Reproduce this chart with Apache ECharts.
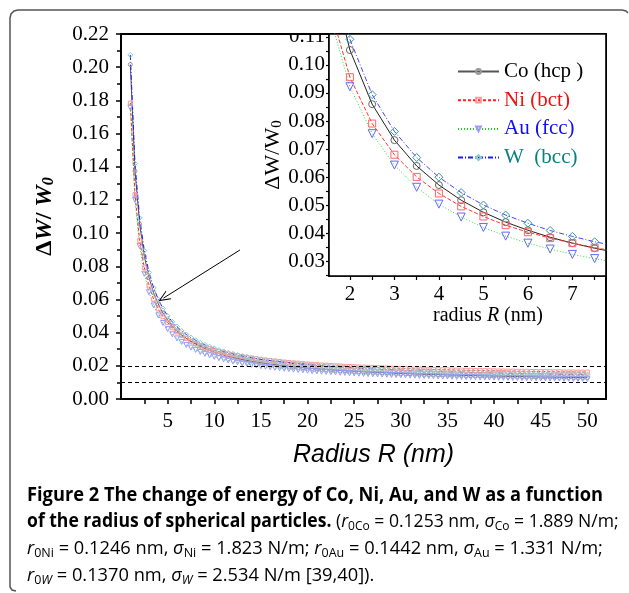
<!DOCTYPE html>
<html><head><meta charset="utf-8">
<script src="https://cdn.jsdelivr.net/npm/echarts@6/dist/echarts.min.js"></script>
<style>html,body{margin:0;padding:0;background:#fff}#c{width:629px;height:593px}</style>
</head><body><div id="c"></div>
<script>
// ---- data ----
const radius = [
  1,1.5,2,2.5,3,3.5,4,4.5,5,5.5,
  6,6.5,7,7.5,8,8.5,9,9.5,10,10.5,
  11,11.5,12,12.5,13,13.5,14,14.5,15,15.5,
  16,16.5,17,17.5,18,18.5,19,19.5,20,20.5,
  21,21.5,22,22.5,23,23.5,24,24.5,25,25.5,
  26,26.5,27,27.5,28,28.5,29,29.5,30,30.5,
  31,31.5,32,32.5,33,33.5,34,34.5,35,35.5,
  36,36.5,37,37.5,38,38.5,39,39.5,40,40.5,
  41,41.5,42,42.5,43,43.5,44,44.5,45,45.5,
  46,46.5,47,47.5,48,48.5,49,49.5,50];
const coHcp = [
  0.2016,0.1374,0.1053,0.0860,0.0732,0.0640,0.0572,0.0518,0.0475,0.0440,
  0.0411,0.0386,0.0365,0.0347,0.0331,0.0317,0.0304,0.0293,0.0283,0.0273,
  0.0265,0.0257,0.0251,0.0244,0.0238,0.0233,0.0228,0.0223,0.0218,0.0214,
  0.0210,0.0207,0.0203,0.0200,0.0197,0.0194,0.0191,0.0189,0.0186,0.0184,
  0.0182,0.0180,0.0178,0.0176,0.0174,0.0172,0.0170,0.0169,0.0167,0.0166,
  0.0164,0.0163,0.0161,0.0160,0.0159,0.0158,0.0156,0.0155,0.0154,0.0153,
  0.0152,0.0151,0.0150,0.0149,0.0148,0.0147,0.0147,0.0146,0.0145,0.0144,
  0.0144,0.0143,0.0142,0.0141,0.0141,0.0140,0.0139,0.0139,0.0138,0.0138,
  0.0137,0.0136,0.0136,0.0135,0.0135,0.0134,0.0134,0.0133,0.0133,0.0132,
  0.0132,0.0131,0.0131,0.0131,0.0130,0.0130,0.0129,0.0129,0.0129];
const niBct = [
  0.1784,0.1232,0.0956,0.0791,0.0680,0.0601,0.0542,0.0496,0.0460,0.0429,
  0.0404,0.0383,0.0365,0.0349,0.0335,0.0323,0.0312,0.0303,0.0294,0.0286,
  0.0279,0.0272,0.0266,0.0261,0.0256,0.0251,0.0247,0.0243,0.0239,0.0235,
  0.0232,0.0229,0.0226,0.0223,0.0220,0.0218,0.0216,0.0213,0.0211,0.0209,
  0.0207,0.0205,0.0204,0.0202,0.0200,0.0199,0.0197,0.0196,0.0195,0.0193,
  0.0192,0.0191,0.0190,0.0189,0.0188,0.0187,0.0186,0.0185,0.0184,0.0183,
  0.0182,0.0181,0.0180,0.0179,0.0179,0.0178,0.0177,0.0176,0.0176,0.0175,
  0.0174,0.0174,0.0173,0.0173,0.0172,0.0171,0.0171,0.0170,0.0170,0.0169,
  0.0169,0.0168,0.0168,0.0167,0.0167,0.0167,0.0166,0.0166,0.0165,0.0165,
  0.0164,0.0164,0.0164,0.0163,0.0163,0.0163,0.0162,0.0162,0.0162];
const auFcc = [
  0.1756,0.1200,0.0922,0.0755,0.0643,0.0564,0.0504,0.0458,0.0421,0.0390,
  0.0365,0.0344,0.0325,0.0310,0.0296,0.0283,0.0272,0.0263,0.0254,0.0246,
  0.0239,0.0232,0.0226,0.0221,0.0215,0.0211,0.0206,0.0202,0.0198,0.0195,
  0.0191,0.0188,0.0185,0.0182,0.0180,0.0177,0.0175,0.0173,0.0170,0.0168,
  0.0166,0.0165,0.0163,0.0161,0.0160,0.0158,0.0157,0.0155,0.0154,0.0152,
  0.0151,0.0150,0.0149,0.0148,0.0147,0.0146,0.0145,0.0144,0.0143,0.0142,
  0.0141,0.0140,0.0139,0.0138,0.0138,0.0137,0.0136,0.0135,0.0135,0.0134,
  0.0133,0.0133,0.0132,0.0132,0.0131,0.0130,0.0130,0.0129,0.0129,0.0128,
  0.0128,0.0127,0.0127,0.0126,0.0126,0.0125,0.0125,0.0125,0.0124,0.0124,
  0.0123,0.0123,0.0123,0.0122,0.0122,0.0121,0.0121,0.0121,0.0120];
const wBcc = [
  0.2074,0.1419,0.1091,0.0894,0.0763,0.0670,0.0600,0.0545,0.0501,0.0465,
  0.0436,0.0410,0.0389,0.0370,0.0354,0.0339,0.0326,0.0315,0.0305,0.0295,
  0.0287,0.0279,0.0272,0.0265,0.0259,0.0254,0.0248,0.0244,0.0239,0.0235,
  0.0231,0.0227,0.0224,0.0220,0.0217,0.0214,0.0211,0.0209,0.0206,0.0204,
  0.0202,0.0199,0.0197,0.0195,0.0193,0.0192,0.0190,0.0188,0.0187,0.0185,
  0.0184,0.0182,0.0181,0.0179,0.0178,0.0177,0.0176,0.0175,0.0174,0.0172,
  0.0171,0.0170,0.0169,0.0168,0.0168,0.0167,0.0166,0.0165,0.0164,0.0163,
  0.0163,0.0162,0.0161,0.0160,0.0160,0.0159,0.0158,0.0158,0.0157,0.0157,
  0.0156,0.0155,0.0155,0.0154,0.0154,0.0153,0.0153,0.0152,0.0152,0.0151,
  0.0151,0.0150,0.0150,0.0149,0.0149,0.0149,0.0148,0.0148,0.0147];
const seriesNames = ['Co (hcp )', 'Ni (bct)', 'Au (fcc)', 'W  (bcc)'];
const mainXLabels = [5,10,15,20,25,30,35,40,45,50];
const mainXTicks = [2.5,5,7.5,10,12.5,15,17.5,20,22.5,25,27.5,30,32.5,35,37.5,40,42.5,45,47.5,50];
const insetXLabels = [2,3,4,5,6,7];
const insetXTicks = [2,2.5,3,3.5,4,4.5,5,5.5,6,6.5,7,7.5];
const insetYLabels = [0.03,0.04,0.05,0.06,0.07,0.08,0.09,0.10,0.11];
const insetYTicks = [0.025,0.03,0.035,0.04,0.045,0.05,0.055,0.06,0.065,0.07,0.075,0.08,0.085,0.09,0.095,0.10,0.105,0.11];
const refLines = [0.02, 0.01];
const arrowFrom = [12.75, 0.0898];
const arrowTo = [4.55, 0.0608];
const caption = [
  '{b|Figure 2 The change of energy of Co, Ni, Au, and W as a function}',
  '{b|of the radius of spherical particles.}{n| (}{i|r}{s|0Co}{n| = 0.1253 nm, }{i|σ}{s|Co}{n| = 1.889 N/m;}',
  '{i|r}{s|0Ni}{n| = 0.1246 nm, }{i|σ}{s|Ni}{n| = 1.823 N/m; }{i|r}{s|0Au}{n| = 0.1442 nm, }{i|σ}{s|Au}{n| = 1.331 N/m;}',
  '{i|r}{s|0}{si|W}{n| = 0.1370 nm, }{i|σ}{si|W}{n| = 2.534 N/m [39,40]).}'
];

// ---- styles ----
const values = [coHcp, niBct, auFcc, wBcc];
const legendColors = ['#000000', '#ee1111', '#1010ee', '#0a8080'];
const mainStyle = [
  {line: '#555555', type: 'solid', sym: 'circle', mk: '#999999', size: 4, rot: 0},
  {line: '#ff2020', type: [3, 2], sym: 'rect', mk: '#ff9999', size: 4, rot: 0},
  {line: '#22cc22', type: [1, 2], sym: 'triangle', mk: '#9999ff', size: 5, rot: 180},
  {line: '#1a1aff', type: [5, 2, 1, 2], sym: 'diamond', mk: '#88cccc', size: 5, rot: 0}
];
const insetStyle = [
  {line: '#222222', type: 'solid', sym: 'circle', mk: '#666666', size: 7, rot: 0},
  {line: '#ff3333', type: [4, 2], sym: 'rect', mk: '#ff6666', size: 7, rot: 0},
  {line: '#33dd33', type: [1, 2], sym: 'triangle', mk: '#6666ff', size: 8, rot: 180},
  {line: '#4444ff', type: [5, 2, 1, 2], sym: 'diamond', mk: '#339999', size: 8, rot: 0}
];
const serif = "'Liberation Serif', 'Times New Roman', serif";

function mk(i, st, axisIdx) {
  return {
    type: 'line', name: seriesNames[i],
    xAxisIndex: axisIdx, yAxisIndex: axisIdx,
    data: radius.map((r, k) => [r, values[i][k]]),
    symbol: st.sym, symbolSize: st.size, symbolRotate: st.rot, showSymbol: true,
    itemStyle: {color: 'rgba(255,255,255,0)', borderColor: st.mk, borderWidth: 1},
    lineStyle: {color: st.line, width: 1, type: st.type},
    emphasis: {disabled: true}, animation: false, clip: true, z: 3
  };
}

const series = [];
for (let i = 0; i < 4; i++) series.push(mk(i, mainStyle[i], 0));
for (let i = 0; i < 4; i++) series.push(mk(i, insetStyle[i], 1));
series[0].markLine = {
  silent: true, animation: false,
  symbol: ['none', 'path://M5,0 L10,11 L9,11 L5,2.5 L1,11 L0,11 Z'],
  symbolSize: [10, 12],
  label: {show: false},
  lineStyle: {color: '#000', width: 1, type: 'solid'},
  emphasis: {disabled: true},
  data: [[{coord: arrowFrom}, {coord: arrowTo}]]
};
series[1].markLine = {
  silent: true, animation: false, symbol: ['none', 'none'],
  label: {show: false},
  lineStyle: {color: '#000', width: 1, type: [4, 3]},
  emphasis: {disabled: true},
  data: refLines.map(v => ({yAxis: v}))
};

// caption scale
const cctx = document.createElement('canvas').getContext('2d');
cctx.font = "bold 19px 'Open Sans'";
const capPlain = 'Figure 2 The change of energy of Co, Ni, Au, and W as a function';
const capScale = 576 / cctx.measureText(capPlain).width;
const capLineScale = [1, 0.9625, 1, 1];
const capRich = {
  b: {fontFamily: "'Open Sans'", fontWeight: 'bold', fontSize: 19, color: '#231f20', lineHeight: 22},
  n: {fontFamily: "'Open Sans'", fontSize: 19, color: '#555555', lineHeight: 22},
  i: {fontFamily: "'Open Sans'", fontStyle: 'italic', fontSize: 19, color: '#555555', lineHeight: 22},
  s: {fontFamily: "'Open Sans'", fontSize: 13, color: '#555555', lineHeight: 12, verticalAlign: 'bottom'},
  si: {fontFamily: "'Open Sans'", fontStyle: 'italic', fontSize: 13, color: '#555555', lineHeight: 12, verticalAlign: 'bottom'}
};
const capBaselines = [502, 528, 555, 582];
const framePts = [[16,591],[12,590],[10,587],[10,18],[11,14],[14,11],[18,10],[622,10],[626,11],[628,13]];

const chart = echarts.init(document.getElementById('c'), null, {renderer: 'canvas'});
chart.setOption({
  animation: false,
  backgroundColor: '#fff',
  grid: [
    {left: 121, top: 34, width: 485, height: 365, show: true, borderColor: '#000', borderWidth: 2, backgroundColor: 'rgba(0,0,0,0)', z: 0},
    {left: 329, top: 34, width: 277, height: 242, show: true, borderColor: '#000', borderWidth: 1.6, backgroundColor: '#fff', z: 1}
  ],
  xAxis: [
    {gridIndex: 0, type: 'value', min: 0, max: 52, interval: 2.5,
     axisLine: {show: true, lineStyle: {color: '#000', width: 2}},
     axisTick: {show: true, length: 5, customValues: mainXTicks, lineStyle: {color: '#000', width: 1.5}},
     axisLabel: {customValues: mainXLabels, margin: 12, fontFamily: serif, fontSize: 21, color: '#000'},
     splitLine: {show: false},
     name: 'Radius R (nm)', nameLocation: 'middle', nameGap: 44,
     nameTextStyle: {fontFamily: "'Liberation Sans', Arial, sans-serif", fontStyle: 'italic', fontSize: 25, color: '#000', padding: [0, 0, 0, 20]}},
    {gridIndex: 1, type: 'value', min: 1.53, max: 7.755,
     axisLine: {show: true, lineStyle: {color: '#000', width: 1.6}},
     axisTick: {show: true, length: 4, customValues: insetXTicks, lineStyle: {color: '#000', width: 1.2}},
     axisLabel: {customValues: insetXLabels, margin: 8, fontFamily: serif, fontSize: 21, color: '#000'},
     splitLine: {show: false},
     name: '{n|radius }{i|R}{n| (nm)}', nameLocation: 'middle', nameGap: 28,
     nameTextStyle: {padding: [0, 0, 0, 41], rich: {
       n: {fontFamily: serif, fontSize: 20, color: '#000'},
       i: {fontFamily: serif, fontStyle: 'italic', fontSize: 20, color: '#000'}}}}
  ],
  yAxis: [
    {gridIndex: 0, type: 'value', min: 0, max: 0.22, interval: 0.02,
     axisLine: {show: true, lineStyle: {color: '#000', width: 2}},
     axisTick: {show: true, length: 5, lineStyle: {color: '#000', width: 1.5}},
     minorTick: {show: true, splitNumber: 2, length: 4, lineStyle: {color: '#000', width: 1.5}},
     axisLabel: {margin: 12, fontFamily: serif, fontSize: 21, color: '#000', formatter: v => v.toFixed(2)},
     splitLine: {show: false}, minorSplitLine: {show: false},
     name: '{d|Δ}{i|W}{d|/ }{i|W}{s|0}', nameLocation: 'middle', nameRotate: 90, nameGap: 64,
     nameTextStyle: {rich: {
       d: {fontFamily: serif, fontWeight: 'bold', fontSize: 24, color: '#000'},
       i: {fontFamily: serif, fontWeight: 'bold', fontStyle: 'italic', fontSize: 24, color: '#000'},
       s: {fontFamily: serif, fontWeight: 'bold', fontStyle: 'italic', fontSize: 16, color: '#000', lineHeight: 14, verticalAlign: 'bottom'}}}},
    {gridIndex: 1, type: 'value', min: 0.0248, max: 0.111,
     axisLine: {show: true, lineStyle: {color: '#000', width: 1.6}},
     axisTick: {show: true, length: 3, customValues: insetYTicks, lineStyle: {color: '#000', width: 1.2}},
     axisLabel: {customValues: insetYLabels, margin: 4, fontFamily: serif, fontSize: 21, color: '#000', formatter: v => v.toFixed(2)},
     splitLine: {show: false},
     name: '{n|ΔW/W}{s|0}', nameLocation: 'middle', nameRotate: 90, nameGap: 37,
     nameTextStyle: {rich: {
       n: {fontFamily: serif, fontSize: 22, color: '#000'},
       s: {fontFamily: serif, fontSize: 15, color: '#000', lineHeight: 12, verticalAlign: 'bottom'}}}}
  ],
  legend: {
    show: true, orient: 'vertical', left: 457, top: 61,
    itemWidth: 41, itemHeight: 6, itemGap: 7.7, padding: 0,
    textStyle: {fontFamily: serif, fontSize: 21, lineHeight: 21},
    data: seriesNames.map((n, i) => ({name: n, textStyle: {color: legendColors[i]}})),
    selectedMode: false
  },
  series: series,
  graphic: [
    {type: 'polyline', z: 50, silent: true,
     shape: {points: framePts},
     style: {fill: 'none', stroke: '#555', lineWidth: 1.5}},
    {type: 'rect', z: 60, silent: true, shape: {x: 270, y: 14, width: 58, height: 19}, style: {fill: '#fff'}}
  ].concat(caption.map((t, k) => ({
    type: 'text', z: 60, silent: true, x: 27, y: capBaselines[k] - 6, scaleX: capScale * capLineScale[k],
    style: {text: t, rich: capRich, align: 'left', verticalAlign: 'middle'}
  })))
});
</script>
</body></html>
